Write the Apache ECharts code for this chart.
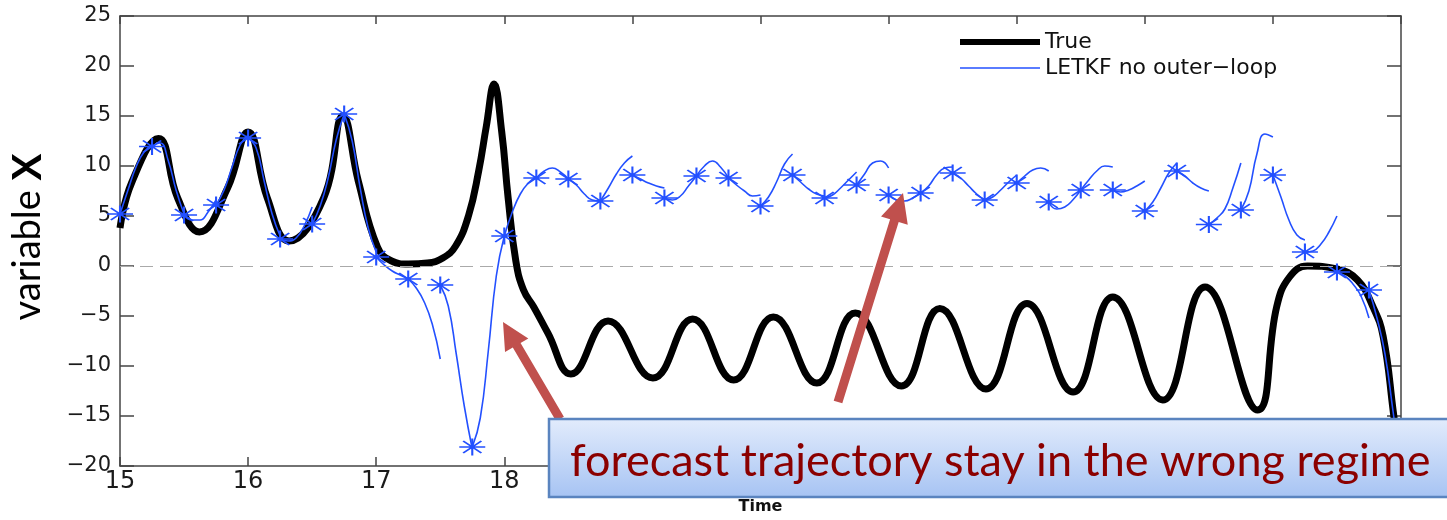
<!DOCTYPE html>
<html><head><meta charset="utf-8">
<script src="https://cdn.jsdelivr.net/npm/echarts@6/dist/echarts.min.js"></script>
<style>html,body{margin:0;padding:0;background:#fff}#c{width:1447px;height:520px}</style>
</head><body><div id="c"></div>
<script>
// ---- data ----
const trueTime = [15.00, 15.09, 15.30, 15.45, 15.62, 15.84, 16.00, 16.15, 16.32, 16.59,
  16.74, 16.86, 17.01, 17.12, 17.25, 17.40, 17.52, 17.62, 17.72, 17.80,
  17.86, 17.92, 17.98, 18.03, 18.09, 18.15, 18.23, 18.34, 18.52, 18.81,
  19.16, 19.47, 19.79, 20.10, 20.44, 20.74, 21.10, 21.40, 21.76, 22.08,
  22.44, 22.75, 23.14, 23.47, 23.88, 24.03, 24.13, 24.27, 24.50, 24.66,
  24.78, 24.86, 24.94, 25.00];
const trueValue = [3.8, 8.3, 12.75, 6.8, 3.4, 7.8, 13.4, 6.8, 2.5, 6.8,
  15.0, 8.5, 1.9, 0.5, 0.2, 0.3, 0.8, 2.0, 5.0, 9.5,
  14.0, 18.2, 13.4, 6.8, 0.5, -2.4, -4.1, -6.7, -10.8, -5.5,
  -11.2, -5.3, -11.4, -5.1, -11.7, -4.7, -12.0, -4.25, -12.3, -3.75,
  -12.6, -3.1, -13.4, -2.1, -14.4, -4.05, -1.1, 0, -0.3, -1.4,
  -4.05, -7.0, -14.6, -21];

const analysisTime = [15.00, 15.25, 15.50, 15.75, 16.00, 16.25, 16.50, 16.75, 17.00, 17.25,
  17.50, 17.75, 18.00, 18.25, 18.50, 18.75, 19.00, 19.25, 19.50, 19.75,
  20.00, 20.25, 20.50, 20.75, 21.00, 21.25, 21.50, 21.75, 22.00, 22.25,
  22.50, 22.75, 23.00, 23.25, 23.50, 23.75, 24.00, 24.25, 24.50, 24.75];
const analysisValue = [5.2, 11.95, 5.1, 6.1, 12.8, 2.7, 4.2, 15.2, 0.9, -1.3,
  -1.9, -18.1, 3.0, 8.8, 8.7, 6.5, 9.1, 6.8, 9.0, 8.8,
  6.0, 9.1, 6.8, 8.1, 7.1, 7.3, 9.3, 6.6, 8.3, 6.4,
  7.6, 7.6, 5.5, 9.5, 4.15, 5.6, 9.1, 1.4, -0.6, -2.4];

const forecastOffset = [0.0625, 0.125, 0.1875, 0.25];
const forecastValue = [
  [7.6, 9.9, 11.4, 12.1], [12.3, 10.6, 7.6, 5.2], [4.6, 4.6, 5.4, 6.6], [7.6, 9.9, 12.1, 13.1],
  [11.8, 8.5, 5.2, 3.0], [2.5, 2.8, 4.0, 5.9], [6.0, 8.8, 12.6, 15.2], [12.5, 7.8, 3.8, 1.4],
  [0.1, -0.5, -0.9, -1.3], [-2.2, -3.6, -5.8, -9.3], [-4.0, -8.8, -14.0, -18.3], [-15.2, -8.5, -1.0, 3.0],
  [5.4, 7.2, 8.3, 8.9], [9.5, 9.8, 9.4, 8.7], [8.1, 7.2, 6.6, 6.5], [7.8, 9.2, 10.3, 11.0],
  [8.7, 8.3, 8.0, 7.8], [6.6, 7.0, 8.0, 9.0], [10.0, 10.5, 9.9, 8.8], [8.1, 7.5, 7.0, 7.1],
  [6.9, 8.4, 10.2, 11.2], [8.4, 7.7, 7.2, 7.0], [7.1, 7.8, 8.6, 9.4], [9.2, 10.3, 10.5, 9.8],
  [6.6, 6.5, 6.8, 7.3], [8.0, 9.1, 9.8, 9.9], [8.8, 8.0, 7.2, 6.6], [6.9, 7.6, 8.4, 9.1],
  [9.0, 9.6, 9.8, 9.5], [5.7, 5.9, 6.6, 7.6], [8.6, 9.5, 10.0, 9.9], [7.4, 7.6, 8.0, 8.5],
  [6.4, 7.8, 9.3, 10.3], [9.0, 8.3, 7.8, 7.5], [4.8, 5.7, 7.8, 10.3], [7.5, 11.2, 13.2, 12.9],
  [6.9, 4.6, 3.1, 2.6], [1.5, 2.2, 3.4, 5.0], [-1.0, -1.8, -3.0, -5.2], [-5.2, -8.8, -14.5, -20.5]
];

const seriesNames = ['True', 'LETKF no outer\u2212loop'];
const xRange = [15, 25, 1];
const yRange = [-20, 25, 5];
const annotationText = 'forecast trajectory stay in the wrong regime';

// ---- build ----
const trueData = trueTime.map((t, i) => [t, trueValue[i]]);
const blueData = [];
analysisTime.forEach((t, k) => {
  blueData.push([t, analysisValue[k]]);
  forecastOffset.forEach((o, j) => blueData.push([t + o, forecastValue[k][j]]));
  blueData.push(null);
});
const starData = analysisTime.map((t, k) => [t, analysisValue[k]]);

const BLUE = '#2350ff';
const AX = '#444';
const minus = v => String(v).replace('-', '\u2212');

function arrowPts(tail, tip, sw, hl, hw) {
  const dx = tip[0] - tail[0], dy = tip[1] - tail[1];
  const L = Math.hypot(dx, dy), ux = dx / L, uy = dy / L, px = -uy, py = ux;
  const bx = tip[0] - ux * hl, by = tip[1] - uy * hl;
  return [
    [tail[0] + px * sw / 2, tail[1] + py * sw / 2],
    [bx + px * sw / 2, by + py * sw / 2],
    [bx + px * hw / 2, by + py * hw / 2],
    tip,
    [bx - px * hw / 2, by - py * hw / 2],
    [bx - px * sw / 2, by - py * sw / 2],
    [tail[0] - px * sw / 2, tail[1] - py * sw / 2]
  ];
}

const chart = echarts.init(document.getElementById('c'), null, {renderer: 'canvas'});
const axisCommon = {
  type: 'value', splitLine: {show: false},
  axisLine: {show: true, onZero: false, lineStyle: {color: AX, width: 1.5}},
};
chart.setOption({
  animation: false,
  backgroundColor: '#fff',
  grid: {left: 119, right: 46, top: 16, bottom: 48, containLabel: false},
  legend: {
    show: true, selectedMode: false,
    orient: 'vertical', left: 955, top: 26, itemWidth: 80, itemHeight: 14, itemGap: 4,
    textStyle: {fontFamily: 'DejaVu Sans', fontSize: 22, color: '#111'},
    data: [
      {name: seriesNames[0], icon: 'path://M0,0L80,0L80,6L0,6Z', itemStyle: {color: '#000'}},
      {name: seriesNames[1], icon: 'path://M0,0L80,0L80,1.5L0,1.5Z', itemStyle: {color: BLUE}}
    ]
  },
  xAxis: [
    Object.assign({}, axisCommon, {
      min: xRange[0], max: xRange[1], interval: xRange[2], position: 'bottom',
      axisTick: {inside: true, length: 9, lineStyle: {color: AX, width: 1.5}},
      axisLabel: {fontFamily: 'DejaVu Sans', fontSize: 24, color: '#1a1a1a', margin: 4},
      name: 'Time', nameLocation: 'middle', nameGap: 33,
      nameTextStyle: {fontFamily: 'DejaVu Sans', fontSize: 16, fontWeight: 'bold', color: '#111'}
    }),
    Object.assign({}, axisCommon, {
      min: xRange[0], max: xRange[1], interval: xRange[2], position: 'top',
      axisTick: {inside: true, length: 8, lineStyle: {color: AX, width: 1.5}},
      axisLabel: {show: false}
    })
  ],
  yAxis: [
    Object.assign({}, axisCommon, {
      min: yRange[0], max: yRange[1], interval: yRange[2], position: 'left',
      axisTick: {inside: true, length: 14, lineStyle: {color: AX, width: 1.5}},
      axisLabel: {fontFamily: 'DejaVu Sans', fontSize: 21, color: '#1a1a1a', margin: 9, formatter: minus},
      name: '{a|variable }{b|X}', nameLocation: 'middle', nameGap: 72, nameRotate: 90,
      nameTextStyle: {padding: [0, 0, 0, 8], rich: {
        a: {fontFamily: 'Lato', fontSize: 38, color: '#000'},
        b: {fontFamily: 'Lato', fontSize: 40, fontWeight: 'bold', color: '#000'}
      }}
    }),
    Object.assign({}, axisCommon, {
      min: yRange[0], max: yRange[1], interval: yRange[2], position: 'right',
      axisTick: {inside: true, length: 14, lineStyle: {color: AX, width: 1.5}},
      axisLabel: {show: false}
    })
  ],
  series: [
    {
      name: 'zero', type: 'line', data: [], z: 1, silent: true,
      markLine: {
        silent: true, symbol: 'none', label: {show: false},
        lineStyle: {color: '#aaa', type: [13, 7], width: 1.2},
        data: [{yAxis: 0}]
      }
    },
    {
      name: seriesNames[0], type: 'line', data: trueData, z: 2, symbol: 'none',
      smooth: 0.45, lineStyle: {color: '#000', width: 7}, itemStyle: {color: '#000'}
    },
    {
      name: seriesNames[1], type: 'line', data: blueData, z: 3, symbol: 'none',
      connectNulls: false, smooth: 0.5, lineStyle: {color: BLUE, width: 1.6}, itemStyle: {color: BLUE}
    },
    {
      name: 'analysis', type: 'scatter', data: starData, z: 4,
      symbol: 'path://M0,1L2,1M1,0L1,2M0.3,0.3L1.7,1.7M0.3,1.7L1.7,0.3',
      symbolSize: [26, 17],
      itemStyle: {color: 'none', borderColor: BLUE, borderWidth: 1.7, opacity: 1}
    }
  ],
  graphic: [
    {type: 'polygon', z: 100, shape: {points: arrowPts([560, 419], [503, 322], 9, 27, 27)}, style: {fill: '#c0504d'}},
    {type: 'polygon', z: 100, shape: {points: arrowPts([838, 402], [903, 193], 9, 29, 28)}, style: {fill: '#c0504d'}},
    {type: 'rect', z: 101, shape: {x: 549, y: 419, width: 920, height: 78},
      style: {fill: new echarts.graphic.LinearGradient(0, 0, 0, 1, [
        {offset: 0, color: '#e3ecfc'}, {offset: 1, color: '#a6c3f3'}]),
        stroke: '#5a84bf', lineWidth: 2.5}},
    {type: 'text', z: 102, style: {text: annotationText, x: 570, y: 461,
      textVerticalAlign: 'middle', fontFamily: 'Lato', fontSize: 45, fill: '#8b0000'}}
  ]
});
</script></body></html>
